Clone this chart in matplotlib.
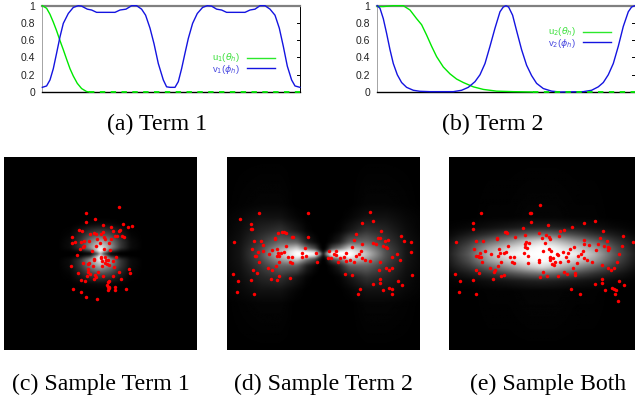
import matplotlib
matplotlib.use('Agg')
import matplotlib.pyplot as plt
import numpy as np

plt.rcParams['font.family'] = ['Liberation Sans', 'DejaVu Sans']
plt.rcParams['mathtext.fontset'] = 'dejavusans'

W, H = 635, 403

# curves, x in plot pixels from the left edge of the panel
v1X = [0, 4.3, 7.7, 11, 14.3, 17.7, 21, 26, 31, 36, 39.3, 45, 49.3, 54.3, 72.7, 77.7, 83.7, 89.3, 94.3, 99.3,
       103.3, 107.7, 111.7, 116, 121, 124.3, 127.7, 132.7, 136, 139.3, 142.7, 146, 150.3, 155, 160.3, 165,
       169.3, 174.3, 179.3, 184.3, 202.7, 207.7, 212.7, 217.7, 222.7, 227.7, 232.7, 237, 241, 245, 249.3,
       252.7, 257.7]
v1Y = [.054, .07, .14, .27, .45, .64, .795, .91, .98, 1, .995, .96, .95, .923, .923, .95, .96, 1, 1, .96,
       .89, .74, .56, .33, .14, .06, .054, .054, .12, .27, .45, .62, .795, .91, .98, 1, .995, .96, .95, .923,
       .923, .95, .96, 1, 1, .96, .89, .74, .53, .30, .14, .07, .054]
u1X = [0, 4.3, 7.7, 11, 14.3, 17.7, 21, 24.3, 27.7, 31, 35, 39.3, 44.3, 47]
u1Y = [1, .97, .90, .81, .71, .595, .49, .38, .27, .185, .10, .04, .005, 0]
u1TailX = [47, 257.7]
u1TailY = [0, 0]

v2X = [0, 2.7, 6, 9.3, 12.7, 16, 20, 24.3, 29.3, 36, 42.7, 52.7, 76, 84.3, 91, 97.7, 102.7, 107.7, 112.7, 117.7,
       122.7, 126, 128.7, 131.3, 135.3, 139.3, 144.3, 149.3, 154.3, 159.3, 166, 174.3, 182.7, 206, 214.3, 221,
       226, 231, 236, 241, 246, 251, 254.3, 257.7]
v2Y = [1, .97, .85, .68, .49, .33, .2, .11, .054, .02, .008, .004, .004, .02, .054, .12, .2, .33, .53, .74,
       .93, .985, 1, .985, .89, .71, .49, .31, .19, .1, .04, .01, 0, .004, .02, .06, .11, .2, .33, .53, .76,
       .93, .985, 1]
u2X = [0, 6, 16, 26, 32.7, 39.3, 44.3, 49.3, 54.3, 59.3, 66, 72.7, 79.3, 86, 96, 106, 119.3, 136, 156]
u2Y = [.99, .99, 1, 1, .95, .85, .78, .66, .53, .41, .29, .21, .15, .11, .06, .03, .01, .004, 0]
u2TailX = [156, 257.7]
u2TailY = [0, 0]

yTicks = [0, 0.2, 0.4, 0.6, 0.8, 1]
yTickLabels = ['0', '0.2', '0.4', '0.6', '0.8', '1']

# quarter of each brightness map: offsets from the centre and grey level
cOffX = [0, 8, 30, 60, 90, 130, 300]
cOffY = [0, 3, 8, 18, 35, 60, 90, 110, 300]
cGrey = [[.5, .1, 0, 0, 0, 0, 0],
         [1, .5, .03, 0, 0, 0, 0],
         [1, .9, .25, .04, .01, 0, 0],
         [.95, .85, .6, .22, .05, 0, 0],
         [.7, .65, .5, .22, .05, 0, 0],
         [.3, .3, .25, .12, .02, 0, 0],
         [.04, .04, .03, .01, 0, 0, 0],
         [0, 0, 0, 0, 0, 0, 0],
         [0, 0, 0, 0, 0, 0, 0]]

dOffX = [0, 8, 25, 50, 80, 130, 190, 250, 300]
dOffY = [0, 6, 15, 35, 70, 110, 150, 300]
dGrey = [[0, .7, 1, 1, 1, .75, .3, .08, .02],
         [0, .2, .85, 1, 1, .72, .3, .08, .02],
         [0, .03, .3, .5, .85, .62, .28, .08, .02],
         [0, 0, .04, .13, .38, .4, .22, .07, .02],
         [0, 0, 0, .02, .09, .2, .14, .05, .01],
         [0, 0, 0, 0, .02, .07, .07, .03, .01],
         [0, 0, 0, 0, 0, .02, .02, .01, 0],
         [0, 0, 0, 0, 0, 0, 0, 0, 0]]

eOffX = [0, 40, 100, 160, 220, 280, 330]
eOffY = [0, 20, 40, 60, 80, 110, 300]
eGrey = [[1, 1, .95, .7, .35, .12, .03],
         [1, .95, .8, .6, .3, .1, .02],
         [.85, .75, .55, .38, .2, .07, .01],
         [.42, .38, .28, .18, .1, .03, 0],
         [.13, .12, .09, .06, .03, .01, 0],
         [.02, .02, .01, .01, 0, 0, 0],
         [0, 0, 0, 0, 0, 0, 0]]

# sample points
cPoints = [(356, 169), (258, 188), (284, 207), (257, 215), (308, 223), (367, 222), (395, 228), (383, 229), (333, 230),
           (236, 239), (245, 243), (358, 239), (356, 243), (339, 243), (308, 244), (270, 250), (283, 247), (288, 250),
           (303, 252), (343, 256), (349, 257), (365, 257), (372, 259), (311, 260), (215, 260), (292, 265), (314, 266),
           (331, 266), (268, 271), (252, 272), (242, 275), (226, 275), (216, 278), (299, 279), (325, 279), (252, 288),
           (248, 290), (289, 287), (241, 297), (311, 297), (329, 299), (275, 301), (230, 315), (348, 320), (303, 320),
           (313, 320), (302, 324), (283, 326), (281, 330), (316, 329), (322, 329), (306, 332), (338, 333), (315, 338),
           (267, 338), (265, 341), (250, 339), (321, 343), (326, 345), (279, 349), (305, 349), (341, 351), (214, 349),
           (263, 356), (385, 356), (295, 366), (357, 366), (264, 367), (390, 369), (234, 369), (270, 373), (260, 377),
           (285, 376), (287, 380), (307, 378), (339, 379), (281, 386), (361, 386), (243, 391), (254, 393), (327, 392),
           (323, 397), (319, 406), (323, 410), (326, 410), (343, 411), (326, 415), (220, 417), (377, 417), (324, 420),
           (344, 421), (244, 425), (258, 441), (291, 446)]
dPoints = [(118, 189), (264, 189), (451, 184), (60, 207), (92, 220), (427, 217), (459, 213), (93, 236), (96, 236),
           (483, 241), (173, 249), (187, 245), (191, 245), (197, 247), (409, 251), (216, 259), (220, 260), (263, 259),
           (166, 263), (165, 266), (475, 262), (481, 263), (542, 258), (402, 268), (43, 275), (102, 273), (124, 273),
           (494, 272), (504, 269), (552, 271), (574, 274), (459, 277), (469, 280), (128, 284), (427, 282), (488, 287),
           (497, 290), (501, 292), (197, 288), (396, 291), (95, 296), (155, 299), (170, 295), (254, 293), (423, 301),
           (574, 304), (129, 303), (115, 306), (192, 305), (184, 307), (173, 309), (147, 311), (247, 307), (289, 307),
           (327, 302), (347, 302), (377, 308), (416, 311), (530, 312), (105, 318), (108, 318), (170, 318), (178, 318),
           (205, 321), (215, 321), (247, 320), (257, 317), (343, 312), (348, 315), (371, 320), (407, 318), (361, 323),
           (325, 323), (333, 323), (517, 322), (425, 325), (539, 329), (118, 335), (178, 337), (211, 337), (215, 338),
           (291, 335), (353, 336), (378, 334), (390, 331), (403, 335), (435, 331), (449, 334), (481, 337), (168, 348),
           (144, 355), (157, 360), (100, 361), (111, 368), (39, 371), (375, 371), (397, 375), (476, 361), (498, 353),
           (507, 361), (515, 354), (577, 374), (176, 379), (154, 388), (170, 390), (211, 384), (94, 389), (53, 394),
           (480, 386), (481, 398), (533, 394), (459, 403), (546, 405), (421, 416), (508, 413), (515, 417), (490, 421),
           (50, 425), (101, 433), (414, 431), (517, 431)]
ePoints = [(316, 164), (139, 189), (285, 189), (288, 189), (287, 215), (114, 219), (339, 223), (448, 217), (480, 213),
           (114, 236), (265, 232), (412, 229), (374, 241), (388, 238), (504, 241), (209, 245), (214, 245), (217, 247),
           (312, 247), (334, 253), (270, 253), (241, 260), (342, 260), (373, 256), (187, 263), (186, 266), (321, 264),
           (345, 267), (495, 262), (563, 258), (64, 276), (123, 273), (145, 273), (447, 268), (516, 272), (595, 274),
           (272, 275), (270, 280), (282, 277), (330, 279), (448, 282), (462, 285), (490, 280), (218, 288), (270, 291),
           (275, 293), (508, 287), (519, 291), (521, 292), (518, 298), (560, 288), (116, 296), (192, 295), (406, 296),
           (418, 291), (341, 297), (349, 302), (444, 301), (484, 299), (151, 303), (136, 307), (194, 309), (206, 307),
           (212, 305), (168, 311), (268, 307), (325, 303), (383, 306), (398, 308), (366, 313), (368, 315), (437, 312),
           (551, 312), (124, 319), (128, 317), (132, 320), (137, 322), (190, 317), (226, 322), (236, 322), (278, 318),
           (344, 320), (428, 318), (392, 320), (345, 325), (354, 323), (344, 331), (447, 325), (457, 331), (470, 335),
           (311, 331), (312, 335), (140, 336), (199, 337), (231, 337), (238, 338), (280, 339), (361, 337), (375, 337),
           (399, 334), (425, 339), (545, 336), (352, 342), (356, 346), (500, 345), (188, 347), (166, 355), (415, 355),
           (519, 353), (536, 354), (529, 361), (122, 361), (179, 361), (178, 367), (132, 368), (60, 371), (325, 366),
           (387, 366), (396, 372), (420, 369), (419, 374), (206, 376), (198, 379), (316, 380), (336, 379), (369, 379),
           (175, 388), (115, 389), (502, 386), (74, 394), (553, 394), (502, 398), (480, 403), (566, 405), (407, 417),
           (530, 413), (536, 416), (543, 421), (510, 421), (71, 425), (122, 433), (435, 431), (539, 431), (550, 454)]


def axesAt(left, top, right, bottom):
    return fig.add_axes([left / W, 1 - bottom / H, (right - left) / W, (bottom - top) / H])


def drawCurves(ax, uX, uY, tailX, tailY, vX, vY, uLabel, vLabel, legendX, legendTop):
    ax.plot(uX, uY, color='#00e800', lw=1.0, zorder=3, clip_on=False)
    ax.plot(tailX, tailY, color='#00e800', lw=1.3, ls=(0, (3, 3)), zorder=5, clip_on=False)
    ax.plot(vX, vY, color='#1414e0', lw=1.0, zorder=4, clip_on=False)
    ax.set_xlim(0, 257.7)
    ax.set_ylim(0, 1)
    ax.set_xticks([])
    ax.set_yticks(yTicks)
    ax.set_yticklabels(yTickLabels, fontsize=7.5, color='#222222')
    ax.tick_params(axis='y', length=0, pad=5)
    ax.spines['top'].set_color('#808080')
    ax.spines['top'].set_linewidth(1.6)
    ax.spines['left'].set_color('#808080')
    ax.spines['left'].set_linewidth(0.5)
    ax.spines['right'].set_linewidth(0.7)
    ax.spines['bottom'].set_linewidth(1.0)
    # small inward marks on the right side
    for t in yTicks[1:-1]:
        ax.plot([254.7, 257.7], [t, t], color='black', lw=0.7, zorder=2)
    # legend is placed by hand, like gnuplot does it
    for label, color, lineColor, y, lineY in ((uLabel, '#3ce03c', '#2ce82c', legendTop, legendTop),
                                              (vLabel, '#4a4ae0', '#1414e0', legendTop + 11.5, legendTop + 10.8)):
        fig.text(legendX / W, 1 - y / H, label, color=color, fontsize=6.8, ha='right', va='center')
        fig.add_artist(plt.Line2D([(legendX + 7) / W, (legendX + 35) / W], [1 - lineY / H, 1 - lineY / H],
                                  color=lineColor, lw=1.0))


def mirrored(offX, offY, grey):
    grey = np.array(grey)
    x = np.array(offX, dtype=float)
    y = np.array(offY, dtype=float)
    fullX = np.concatenate((-x[:0:-1], x))
    fullY = np.concatenate((-y[:0:-1], y))
    full = np.hstack((grey[:, :0:-1], grey))
    full = np.vstack((full[:0:-1, :], full))
    return fullX, fullY, full


def softened(fullX, fullY, full, step=3, passes=2):
    # put the read grey levels on an even grid and take the corners off
    gridX = np.arange(fullX[0], fullX[-1] + step, step)
    gridY = np.arange(fullY[0], fullY[-1] + step, step)
    rows = np.array([np.interp(gridX, fullX, r) for r in full])
    img = np.array([np.interp(gridY, fullY, c) for c in rows.T]).T
    kernel = np.ones(3) / 3
    for p in range(passes):
        img = np.apply_along_axis(lambda r: np.convolve(r, kernel, mode='same'), 1, img)
        img = np.apply_along_axis(lambda c: np.convolve(c, kernel, mode='same'), 0, img)
    return gridX, gridY, img


def drawSample(ax, offX, offY, grey, centre, xlim, ylim, points):
    fullX, fullY, full = mirrored(offX, offY, grey)
    gridX, gridY, img = softened(fullX, fullY, full)
    ax.set_facecolor('black')
    ax.imshow(img, extent=(gridX[0] + centre[0], gridX[-1] + centre[0], gridY[-1] + centre[1], gridY[0] + centre[1]),
              cmap='gray', vmin=0, vmax=1, interpolation='bilinear', aspect='auto')
    pts = np.array(points)
    ax.plot(pts[:, 0], pts[:, 1], ls='none', marker='o', ms=2.5, mew=0, color='#ff0000')
    ax.set_xlim(*xlim)
    ax.set_ylim(*ylim)
    ax.axis('off')


fig = plt.figure(figsize=(W / 100, H / 100), dpi=100)

axA = axesAt(42.3, 5.7, 300, 92)
drawCurves(axA, u1X, u1Y, u1TailX, u1TailY, v1X, v1Y,
           r'u$_1$($\theta_h$)', r'v$_1$($\phi_h$)', 240, 57.5)
axB = axesAt(377.3, 5.7, 635, 92)
drawCurves(axB, u2X, u2Y, u2TailX, u2TailY, v2X, v2Y,
           r'u$_2$($\theta_h$)', r'v$_2$($\phi_h$)', 576, 31.5)

axC = axesAt(4, 157, 197, 350)
drawSample(axC, cOffX, cOffY, cGrey, (301, 311), (12, 590), (600, 20), cPoints)
axD = axesAt(227, 157, 420, 350)
drawSample(axD, dOffX, dOffY, dGrey, (310, 311), (21, 600), (600, 20), dPoints)
axE = axesAt(449, 157, 635, 350)
drawSample(axE, eOffX, eOffY, eGrey, (320, 312), (42, 600), (600, 20), ePoints)

captions = ['(a) Term 1', '(b) Term 2', '(c) Sample Term 1', '(d) Sample Term 2', '(e) Sample Both']
captionX = [157.5, 493, 100.5, 323, 548.5]
captionY = [124, 124, 384, 384, 384]
for text, x, y in zip(captions, captionX, captionY):
    fig.text(x / W, 1 - y / H, text, family='Liberation Serif', fontsize=17.2, color='black', ha='center', va='center')

fig.savefig('out.png', dpi=100)
